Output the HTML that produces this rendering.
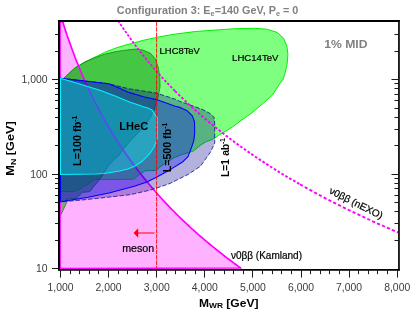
<!DOCTYPE html>
<html>
<head>
<meta charset="utf-8">
<title>Configuration 3</title>
<style>
html,body{margin:0;padding:0;background:#fff;}
body{width:415px;height:318px;overflow:hidden;font-family:"Liberation Sans",sans-serif;}
svg{display:block;will-change:transform;font-family:"Liberation Sans",sans-serif;}
.tk{stroke:#000;stroke-width:0.9;fill:none;}
.tl{font-size:10.4px;fill:#3c3c3c;}
.b{font-weight:bold;}
</style>
</head>
<body>
<svg width="415" height="318" viewBox="0 0 415 318">
<defs>
<clipPath id="pa"><rect x="60" y="22" width="338.2" height="247.2"/></clipPath>
</defs>
<rect x="0" y="0" width="415" height="318" fill="#ffffff"/>
<g clip-path="url(#pa)">
<!-- Kamland pink region -->
<polygon points="60.0,268.5 60.0,22.0 62.8,22.0 65.0,29.0 67.2,35.7 69.5,42.1 71.7,48.3 73.9,54.3 76.1,60.1 78.4,65.6 80.6,71.0 82.8,76.2 85.0,81.3 87.3,86.2 89.5,90.9 91.7,95.5 93.9,100.0 96.1,104.4 98.4,108.7 100.6,112.8 102.8,116.9 105.0,120.8 107.3,124.7 109.5,128.5 111.7,132.2 113.9,135.8 116.2,139.3 118.4,142.7 120.6,146.1 122.8,149.4 125.0,152.7 127.3,155.9 129.5,159.0 131.7,162.1 133.9,165.1 136.2,168.0 138.4,170.9 140.6,173.8 142.8,176.6 145.1,179.4 147.3,182.1 149.5,184.7 151.7,187.4 154.0,189.9 156.2,192.5 158.4,195.0 160.6,197.5 162.8,199.9 165.1,202.3 167.3,204.6 169.5,207.0 171.7,209.3 174.0,211.5 176.2,213.8 178.4,216.0 180.6,218.1 182.9,220.3 185.1,222.4 187.3,224.5 189.5,226.5 191.7,228.6 194.0,230.6 196.2,232.6 198.4,234.6 200.6,236.5 202.9,238.4 205.1,240.3 207.3,242.2 209.5,244.0 211.8,245.9 214.0,247.7 216.2,249.5 218.4,251.2 220.7,253.0 222.9,254.7 225.1,256.5 227.3,258.2 229.5,259.8 231.8,261.5 234.0,263.2 236.2,264.8 238.4,266.4 240.7,268.0" fill="rgba(255,0,255,0.3)" stroke="none"/>
<!-- LHC14 -->
<polygon points="60.2,78.8 63.6,78.4 67.0,75.2 75.1,67.8 85.0,61.9 94.6,57.3 104.3,52.5 115.4,48.2 123.6,45.6 135.0,42.6 142.8,40.4 155.1,37.7 165.0,35.8 175.3,34.1 195.4,31.5 215.0,30.1 235.1,28.7 255.3,28.3 267.4,29.3 277.4,32.5 283.5,38.1 286.9,46.2 287.9,54.3 287.1,64.3 284.8,74.0 283.3,79.0 279.5,84.1 272.4,95.1 263.3,103.2 251.3,113.3 240.0,121.3 232.0,127.3 223.4,132.5 220.0,134.4 214.9,138.0 210.6,140.2 206.3,141.6 200.5,145.2 193.3,151.0 188.9,152.5 181.7,154.6 174.5,157.5 167.2,161.9 160.0,166.9 156.2,170.4 145.3,170.8 138.1,175.4 133.8,179.3 104.0,179.5 93.8,179.6 88.7,183.9 84.0,186.0 81.2,188.3 74.9,191.4 60.5,191.4" fill="rgba(0,255,0,0.5)" stroke="none"/>
<polyline points="63.6,78.4 67.0,75.2 75.1,67.8 85.0,61.9 94.6,57.3 104.3,52.5 115.4,48.2 123.6,45.6 135.0,42.6 142.8,40.4 155.1,37.7 165.0,35.8 175.3,34.1 195.4,31.5 215.0,30.1 235.1,28.7 255.3,28.3 267.4,29.3 277.4,32.5 283.5,38.1 286.9,46.2 287.9,54.3 287.1,64.3 284.8,74.0 283.3,79.0 279.5,84.1 272.4,95.1 263.3,103.2 251.3,113.3 240.0,121.3 232.0,127.3 223.4,132.5 220.0,134.4 214.9,138.0 210.6,140.2 206.3,141.6 200.5,145.2 193.3,151.0 188.9,152.5 181.7,154.6 174.5,157.5 167.2,161.9 160.0,166.9 156.2,170.4 145.3,170.8 138.1,175.4 133.8,179.3 104.0,179.5 93.8,179.6 88.7,183.9 84.0,186.0 81.2,188.3 74.9,191.4 60.5,191.4" fill="none" stroke="#00f000" stroke-width="1" stroke-linejoin="round"/>
<!-- LHC8 -->
<polygon points="60.2,78.8 63.6,78.4 67.0,75.2 75.1,67.8 85.0,62.1 94.6,57.8 104.3,54.3 115.0,51.8 123.6,50.4 135.1,49.1 142.8,50.0 150.5,53.3 155.4,59.1 158.3,67.8 159.8,77.4 160.0,87.0 158.3,96.0 156.1,103.4 154.4,109.3 150.2,117.8 145.1,125.5 138.0,133.0 132.1,138.9 124.2,148.0 118.5,155.9 113.3,160.0 108.4,165.9 103.5,173.7 99.6,179.5 93.8,186.4 90.3,191.0 89.0,191.8 82.4,192.3 76.4,198.4 67.3,199.0 66.7,202.4 60.5,215.6" fill="rgba(0,128,0,0.45)" stroke="none"/>
<polyline points="63.6,78.4 67.0,75.2 75.1,67.8 85.0,62.1 94.6,57.8 104.3,54.3 115.0,51.8 123.6,50.4 135.1,49.1 142.8,50.0 150.5,53.3 155.4,59.1 158.3,67.8 159.8,77.4 160.0,87.0 158.3,96.0 156.1,103.4 154.4,109.3 150.2,117.8 145.1,125.5 138.0,133.0 132.1,138.9 124.2,148.0 118.5,155.9 113.3,160.0 108.4,165.9 103.5,173.7 99.6,179.5 93.8,186.4 90.3,191.0 89.0,191.8 82.4,192.3 76.4,198.4 67.3,199.0 66.7,202.4 60.5,215.6" fill="none" stroke="#0c8c0c" stroke-width="0.8" stroke-linejoin="round"/>
<!-- Kamland line -->
<polygon points="60.0,268.5 60.0,22.0 62.8,22.0 65.0,29.0 67.2,35.7 69.5,42.1 71.7,48.3 73.9,54.3 76.1,60.1 78.4,65.6 80.6,71.0 82.8,76.2 85.0,81.3 87.3,86.2 89.5,90.9 91.7,95.5 93.9,100.0 96.1,104.4 98.4,108.7 100.6,112.8 102.8,116.9 105.0,120.8 107.3,124.7 109.5,128.5 111.7,132.2 113.9,135.8 116.2,139.3 118.4,142.7 120.6,146.1 122.8,149.4 125.0,152.7 127.3,155.9 129.5,159.0 131.7,162.1 133.9,165.1 136.2,168.0 138.4,170.9 140.6,173.8 142.8,176.6 145.1,179.4 147.3,182.1 149.5,184.7 151.7,187.4 154.0,189.9 156.2,192.5 158.4,195.0 160.6,197.5 162.8,199.9 165.1,202.3 167.3,204.6 169.5,207.0 171.7,209.3 174.0,211.5 176.2,213.8 178.4,216.0 180.6,218.1 182.9,220.3 185.1,222.4 187.3,224.5 189.5,226.5 191.7,228.6 194.0,230.6 196.2,232.6 198.4,234.6 200.6,236.5 202.9,238.4 205.1,240.3 207.3,242.2 209.5,244.0 211.8,245.9 214.0,247.7 216.2,249.5 218.4,251.2 220.7,253.0 222.9,254.7 225.1,256.5 227.3,258.2 229.5,259.8 231.8,261.5 234.0,263.2 236.2,264.8 238.4,266.4 240.7,268.0" fill="none" stroke="#ff00ff" stroke-width="1.7" stroke-linejoin="round"/>
<!-- LHeC 1 ab -->
<polygon points="60.5,78.2 108.7,83.7 118.8,86.3 128.9,88.8 143.4,91.0 156.4,93.1 175.3,99.2 180.0,101.4 194.5,106.5 203.1,109.8 210.4,113.7 214.0,117.3 214.7,123.1 214.7,143.1 210.4,152.2 200.4,166.3 188.0,174.5 170.1,183.4 162.7,186.0 150.3,190.1 130.1,194.7 108.0,197.2 86.0,199.6 60.5,201.9" fill="rgba(0,0,140,0.3)" stroke="#101090" stroke-width="0.8" stroke-dasharray="4.5 1.8" stroke-linejoin="round"/>
<!-- LHeC 500 -->
<polygon points="60.5,78.2 108.7,83.7 118.8,88.1 128.9,92.4 143.4,96.7 156.4,99.6 175.3,106.2 180.0,107.4 187.2,110.8 192.3,115.9 194.5,121.7 194.7,133.3 193.9,140.1 191.3,148.1 188.0,156.6 182.9,161.7 171.4,168.9 156.9,176.9 146.8,181.9 135.2,186.0 110.0,192.8 88.0,197.2 60.5,201.7" fill="rgba(0,0,255,0.3)" stroke="#0000ff" stroke-width="1.1" stroke-linejoin="round"/>
<!-- LHeC 100 -->
<polygon points="60.5,78.2 100.0,90.2 114.5,95.8 128.9,101.7 140.0,105.6 143.4,106.8 148.5,108.2 151.9,109.9 155.7,115.6 157.4,117.8 157.4,138.0 156.2,141.5 154.0,147.2 149.7,153.7 142.5,161.0 135.2,166.0 128.0,168.9 118.5,171.3 104.0,173.5 95.3,174.1 60.5,174.4" fill="rgba(0,255,255,0.3)" stroke="#00f4ff" stroke-width="1.05" stroke-linejoin="round"/>
<!-- nEXO dashed -->
<polyline points="118.0,20.5 119.9,23.4 121.8,26.2 123.7,29.0 125.6,31.8 127.5,34.5 129.4,37.2 131.3,39.8 133.2,42.4 135.1,45.0 137.0,47.5 138.9,49.9 140.8,52.4 142.7,54.8 144.6,57.1 146.5,59.5 148.4,61.8 150.3,64.0 152.2,66.3 154.1,68.5 156.0,70.7 157.9,72.8 159.8,74.9 161.7,77.0 163.6,79.1 165.5,81.1 167.4,83.1 169.3,85.1 171.2,87.1 173.1,89.1 175.0,91.0" fill="none" stroke="#ff00ff" stroke-width="1.8" stroke-dasharray="2.6 1.6"/>
<polyline points="175.0,91.0 178.1,94.1 181.2,97.1 184.4,100.1 187.5,103.1 190.6,106.0 193.8,108.8 196.9,111.6 200.0,114.4 203.1,117.1 206.2,119.7 209.4,122.4 212.5,124.9 215.6,127.5 218.8,130.0 221.9,132.4 225.0,134.8 228.1,137.2 231.2,139.6 234.4,141.9 237.5,144.2 240.6,146.5 243.8,148.7 246.9,150.9 250.0,153.0 253.1,155.2 256.2,157.3 259.4,159.4 262.5,161.4 265.6,163.5 268.8,165.5 271.9,167.5 275.0,169.4 278.1,171.4 281.2,173.3 284.4,175.2 287.5,177.1 290.6,178.9 293.8,180.7 296.9,182.5 300.0,184.3" fill="none" stroke="#ff00ff" stroke-width="1.9" stroke-dasharray="2.7 1.8"/>
<polyline points="300.0,184.3 303.3,186.2 306.7,188.1 310.0,189.9 313.3,191.8 316.7,193.6 320.0,195.3 323.3,197.1 326.7,198.9 330.0,200.6 333.3,202.3 336.7,204.0 340.0,205.7 343.3,207.3 346.7,209.0 350.0,210.6 353.3,212.2 356.7,213.8 360.0,215.4 363.3,216.9 366.7,218.5 370.0,220.0 373.3,221.6 376.7,223.1 380.0,224.6 383.3,226.0 386.7,227.5 390.0,229.0 393.3,230.4 396.7,231.8 400.0,233.2" fill="none" stroke="#ff00ff" stroke-width="1.9" stroke-dasharray="3.2 2.2"/>
<!-- red dashed -->
<path d="M156.6 22V268" stroke="#ff0000" stroke-width="0.9" stroke-dasharray="4.4 0.9" fill="none"/>
<!-- arrow -->
<path d="M154.5 233H138" stroke="#ff0000" stroke-width="1.2" fill="none"/>
<polygon points="133.6,233 138.2,228.2 138.2,237.8" fill="#ff0000"/>
</g>
<!-- frame -->
<path d="M59 20V270.5" stroke="#000" stroke-width="2" fill="none"/>
<path d="M58 21H399.8" stroke="#000" stroke-width="2" fill="none"/>
<path d="M398.95 20V270.5" stroke="#000" stroke-width="1.7" fill="none"/>
<path d="M58 269.8H399.8" stroke="#000" stroke-width="1.8" fill="none"/>
<path d="M52 268.5H58" class="tk"/>
<path d="M55 240.5H58" class="tk"/>
<path d="M394.5 240.5H398" class="tk"/>
<path d="M55 223.5H58" class="tk"/>
<path d="M394.5 223.5H398" class="tk"/>
<path d="M55 211.5H58" class="tk"/>
<path d="M394.5 211.5H398" class="tk"/>
<path d="M55 202.5H58" class="tk"/>
<path d="M394.5 202.5H398" class="tk"/>
<path d="M55 195.5H58" class="tk"/>
<path d="M394.5 195.5H398" class="tk"/>
<path d="M55 188.5H58" class="tk"/>
<path d="M394.5 188.5H398" class="tk"/>
<path d="M55 183.5H58" class="tk"/>
<path d="M394.5 183.5H398" class="tk"/>
<path d="M55 178.5H58" class="tk"/>
<path d="M394.5 178.5H398" class="tk"/>
<path d="M52 174.5H58" class="tk"/>
<path d="M391.5 174.5H398" class="tk"/>
<path d="M55 145.5H58" class="tk"/>
<path d="M394.5 145.5H398" class="tk"/>
<path d="M55 129.5H58" class="tk"/>
<path d="M394.5 129.5H398" class="tk"/>
<path d="M55 117.5H58" class="tk"/>
<path d="M394.5 117.5H398" class="tk"/>
<path d="M55 108.5H58" class="tk"/>
<path d="M394.5 108.5H398" class="tk"/>
<path d="M55 100.5H58" class="tk"/>
<path d="M394.5 100.5H398" class="tk"/>
<path d="M55 94.5H58" class="tk"/>
<path d="M394.5 94.5H398" class="tk"/>
<path d="M55 88.5H58" class="tk"/>
<path d="M394.5 88.5H398" class="tk"/>
<path d="M55 83.5H58" class="tk"/>
<path d="M394.5 83.5H398" class="tk"/>
<path d="M52 79.5H58" class="tk"/>
<path d="M391.5 79.5H398" class="tk"/>
<path d="M55 51.5H58" class="tk"/>
<path d="M394.5 51.5H398" class="tk"/>
<path d="M55 34.5H58" class="tk"/>
<path d="M394.5 34.5H398" class="tk"/>
<path d="M60.5 270.5V277.6" class="tk"/>
<path d="M70.5 270.5V274.2" class="tk"/>
<path d="M79.5 270.5V274.2" class="tk"/>
<path d="M89.5 270.5V274.2" class="tk"/>
<path d="M98.5 270.5V274.2" class="tk"/>
<path d="M108.5 270.5V277.6" class="tk"/>
<path d="M118.5 270.5V274.2" class="tk"/>
<path d="M127.5 270.5V274.2" class="tk"/>
<path d="M137.5 270.5V274.2" class="tk"/>
<path d="M147.5 270.5V274.2" class="tk"/>
<path d="M156.5 270.5V277.6" class="tk"/>
<path d="M166.5 270.5V274.2" class="tk"/>
<path d="M175.5 270.5V274.2" class="tk"/>
<path d="M185.5 270.5V274.2" class="tk"/>
<path d="M195.5 270.5V274.2" class="tk"/>
<path d="M204.5 270.5V277.6" class="tk"/>
<path d="M214.5 270.5V274.2" class="tk"/>
<path d="M224.5 270.5V274.2" class="tk"/>
<path d="M233.5 270.5V274.2" class="tk"/>
<path d="M243.5 270.5V274.2" class="tk"/>
<path d="M252.5 270.5V277.6" class="tk"/>
<path d="M262.5 270.5V274.2" class="tk"/>
<path d="M272.5 270.5V274.2" class="tk"/>
<path d="M281.5 270.5V274.2" class="tk"/>
<path d="M291.5 270.5V274.2" class="tk"/>
<path d="M301.5 270.5V277.6" class="tk"/>
<path d="M310.5 270.5V274.2" class="tk"/>
<path d="M320.5 270.5V274.2" class="tk"/>
<path d="M329.5 270.5V274.2" class="tk"/>
<path d="M339.5 270.5V274.2" class="tk"/>
<path d="M349.5 270.5V277.6" class="tk"/>
<path d="M358.5 270.5V274.2" class="tk"/>
<path d="M368.5 270.5V274.2" class="tk"/>
<path d="M377.5 270.5V274.2" class="tk"/>
<path d="M387.5 270.5V274.2" class="tk"/>
<path d="M397.5 270.5V277.6" class="tk"/>
<text x="60.5" y="290.8" class="tl" text-anchor="middle">1,000</text>
<text x="108.6" y="290.8" class="tl" text-anchor="middle">2,000</text>
<text x="156.7" y="290.8" class="tl" text-anchor="middle">3,000</text>
<text x="204.8" y="290.8" class="tl" text-anchor="middle">4,000</text>
<text x="252.9" y="290.8" class="tl" text-anchor="middle">5,000</text>
<text x="301.0" y="290.8" class="tl" text-anchor="middle">6,000</text>
<text x="349.1" y="290.8" class="tl" text-anchor="middle">7,000</text>
<text x="397.2" y="290.8" class="tl" text-anchor="middle">8,000</text>
<text x="47.5" y="272.2" class="tl" text-anchor="end">10</text>
<text x="47.5" y="177.7" class="tl" text-anchor="end">100</text>
<text x="47.5" y="83.1" class="tl" text-anchor="end">1,000</text>
<!-- title -->
<text x="207.6" y="13.8" text-anchor="middle" class="b" font-size="11px" fill="#808080" textLength="181.5" lengthAdjust="spacingAndGlyphs">Configuration 3: E<tspan font-size="7.5px" dy="2">e</tspan><tspan dy="-2">=140 GeV, P</tspan><tspan font-size="7.5px" dy="2">e</tspan><tspan dy="-2"> = 0</tspan></text>
<!-- axis labels -->
<text x="228.7" y="306.5" text-anchor="middle" class="b" font-size="11.5px" fill="#000" textLength="59.5" lengthAdjust="spacingAndGlyphs">M<tspan font-size="8px" dy="1.5">WR</tspan><tspan dy="-1.5"> [GeV]</tspan></text>
<text transform="translate(14.3,148.5) rotate(-90)" text-anchor="middle" class="b" font-size="11.5px" fill="#000" textLength="54.5" lengthAdjust="spacingAndGlyphs">M<tspan font-size="8px" dy="1.5">N</tspan><tspan dy="-1.5"> [GeV]</tspan></text>
<!-- labels -->
<text x="159.6" y="53.7" font-size="9.3px" fill="#000" stroke="#000" stroke-width="0.2" textLength="40.3" lengthAdjust="spacingAndGlyphs">LHC8TeV</text>
<text x="232.1" y="60.9" font-size="9.3px" fill="#000" stroke="#000" stroke-width="0.2" textLength="46.4" lengthAdjust="spacingAndGlyphs">LHC14TeV</text>
<text x="324.2" y="47.6" class="b" font-size="11.5px" fill="#808080" textLength="43.3" lengthAdjust="spacingAndGlyphs">1% MID</text>
<text x="119.3" y="129.5" class="b" font-size="11px" fill="#000" textLength="28.9" lengthAdjust="spacingAndGlyphs">LHeC</text>
<text transform="translate(80.9,165.9) rotate(-90)" class="b" font-size="11px" fill="#000" textLength="50.3" lengthAdjust="spacingAndGlyphs">L=100 fb<tspan font-size="7px" dy="-4">-1</tspan></text>
<text transform="translate(170.9,172.3) rotate(-90)" class="b" font-size="11px" fill="#000" textLength="49.5" lengthAdjust="spacingAndGlyphs">L=500 fb<tspan font-size="7px" dy="-4">-1</tspan></text>
<text transform="translate(228.8,177.1) rotate(-90)" class="b" font-size="10.5px" fill="#000" letter-spacing="-0.25">L=1 <tspan dx="1">ab</tspan><tspan font-size="7px" dy="-4">-1</tspan></text>
<text x="122.2" y="251.6" font-size="10.5px" fill="#000" stroke="#000" stroke-width="0.2" textLength="32" lengthAdjust="spacingAndGlyphs">meson</text>
<text x="231" y="259" font-size="10px" fill="#000" stroke="#000" stroke-width="0.2" textLength="71" lengthAdjust="spacingAndGlyphs">&#957;0&#946;&#946; (Kamland)</text>
<text transform="translate(328.5,193.1) rotate(26.6)" font-size="10px" fill="#000" stroke="#000" stroke-width="0.2" textLength="58.5" lengthAdjust="spacingAndGlyphs">&#957;0&#946;&#946; (nEXO)</text>
</svg>
</body>
</html>
